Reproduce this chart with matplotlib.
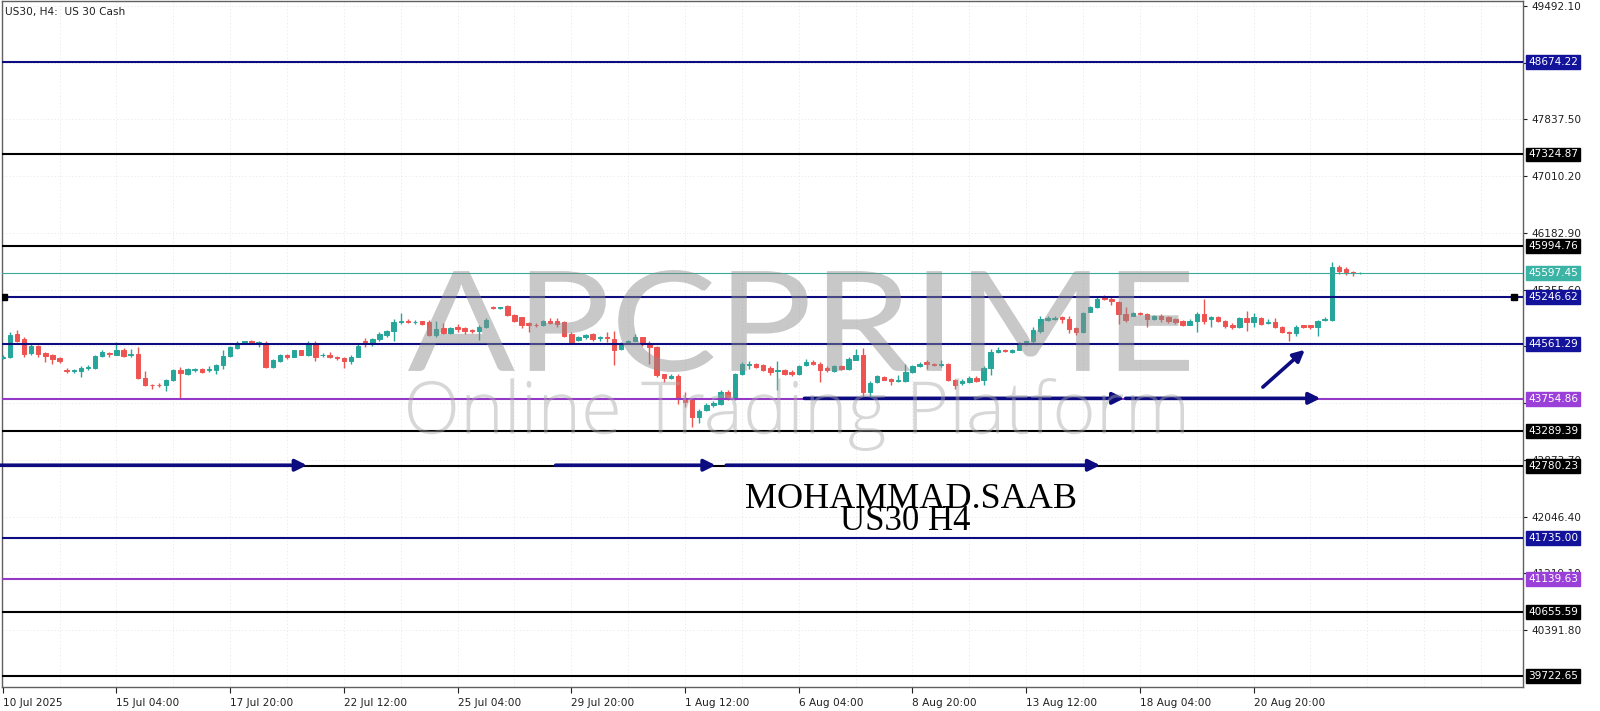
import numpy as np
import matplotlib
matplotlib.use('Agg')
import matplotlib.pyplot as plt
from matplotlib.textpath import TextPath
from matplotlib.patches import PathPatch
from matplotlib.font_manager import FontProperties
from matplotlib.transforms import Affine2D

# US30 H4 candles (open, high, low, close), 10 Jul 2025 onwards
opens = [44356, 44380, 44710, 44628, 44429, 44531, 44429, 44395, 44356, 44186, 44167, 44162, 44206, 44210, 44390, 44429,
         44405, 44468, 44409, 44419, 44070, 43968, 43968, 43958, 44031, 44177, 44118, 44177, 44191, 44177, 44186, 44249,
         44385, 44506, 44574, 44604, 44579, 44574, 44225, 44312, 44395, 44380, 44468, 44405, 44574, 44395, 44405, 44371,
         44365, 44312, 44380, 44613, 44555, 44628, 44700, 44749, 44880, 44904, 44880, 44895, 44890, 44696, 44793, 44725,
         44807, 44793, 44768, 44759, 44807, 45108, 45089, 45123, 44987, 44953, 44866, 44846, 44832, 44904, 44895, 44880,
         44710, 44623, 44662, 44710, 44647, 44662, 44637, 44492, 44589, 44613, 44662, 44579, 44516, 44118, 44070, 44094,
         43770, 43754, 43497, 43604, 43667, 43691, 43861, 43764, 44118, 44249, 44264, 44249, 44215, 44172, 44177, 44152,
         44118, 44249, 44298, 44274, 44215, 44162, 44235, 44201, 44332, 44395, 43861, 44007, 44080, 44055, 44021, 44021,
         44152, 44235, 44298, 44274, 44249, 44264, 44041, 43992, 44007, 44070, 44031, 44215, 44443, 44468, 44443, 44482,
         44565, 44599, 44759, 44919, 44929, 44953, 44929, 44793, 44744, 45035, 45098, 45244, 45220, 45181, 45001, 44977,
         45016, 45001, 44929, 44977, 44953, 44929, 44904, 44841, 44895, 45001, 44929, 44953, 44904, 44832, 44807, 44938,
         44880, 44943, 44866, 44890, 44807, 44744, 44725, 44832, 44832, 44807, 44914, 44914, 45681, 45656, 45618, 45592]
highs = [44395, 44734, 44773, 44662, 44565, 44550, 44443, 44419, 44380, 44215, 44196, 44235, 44254, 44400, 44468, 44443,
         44589, 44506, 44492, 44516, 44167, 43982, 43987, 44055, 44201, 44225, 44215, 44215, 44206, 44235, 44264, 44468,
         44540, 44604, 44613, 44623, 44613, 44613, 44337, 44419, 44419, 44477, 44477, 44613, 44613, 44429, 44443, 44390,
         44380, 44395, 44565, 44647, 44647, 44730, 44768, 44929, 45016, 44929, 44919, 44904, 44914, 44895, 44866, 44807,
         44856, 44807, 44783, 44832, 44938, 45123, 45108, 45137, 45001, 44963, 44880, 44866, 44914, 44938, 44943, 44895,
         44735, 44686, 44710, 44720, 44686, 44735, 44749, 44589, 44623, 44710, 44671, 44613, 44526, 44128, 44128, 44118,
         43860, 43770, 43619, 43701, 43730, 43885, 43885, 44138, 44298, 44312, 44283, 44274, 44235, 44312, 44191, 44177,
         44254, 44346, 44322, 44298, 44235, 44249, 44254, 44371, 44492, 44506, 44016, 44104, 44099, 44070, 44104, 44264,
         44249, 44298, 44322, 44288, 44322, 44283, 44055, 44055, 44089, 44089, 44235, 44492, 44516, 44487, 44492, 44589,
         44613, 44807, 44977, 44967, 44977, 44977, 44967, 44807, 45035, 45123, 45244, 45278, 45244, 45196, 45098, 45035,
         45026, 45016, 44987, 45001, 44977, 44948, 44919, 44929, 45026, 45220, 44967, 44967, 44919, 44865, 44953, 45050,
         45016, 44962, 44929, 44938, 44822, 44759, 44832, 44846, 44846, 44919, 44953, 45763, 45715, 45681, 45632, 45608]
lows = [44346, 44361, 44589, 44380, 44395, 44371, 44298, 44264, 44288, 44138, 44138, 44080, 44186, 44196, 44371, 44380,
        44395, 44371, 44371, 44055, 43944, 43900, 43934, 43876, 44021, 43764, 44104, 44157, 44138, 44157, 44118, 44196,
        44371, 44492, 44565, 44555, 44516, 44215, 44215, 44293, 44346, 44371, 44395, 44390, 44308, 44371, 44356, 44322,
        44215, 44274, 44371, 44516, 44540, 44613, 44662, 44613, 44856, 44875, 44856, 44836, 44676, 44662, 44701, 44710,
        44735, 44710, 44720, 44623, 44798, 45074, 45074, 44977, 44880, 44798, 44735, 44817, 44822, 44856, 44807, 44662,
        44574, 44613, 44637, 44613, 44613, 44589, 44249, 44477, 44565, 44604, 44540, 44274, 44080, 44007, 44055, 43691,
        43640, 43350, 43410, 43585, 43643, 43667, 43740, 43750, 44104, 44201, 44210, 44167, 44104, 43895, 44104, 44094,
        44104, 44235, 44259, 44007, 44152, 44147, 44177, 44186, 44322, 43788, 43779, 43992, 44031, 43968, 44012, 44007,
        44138, 44225, 44201, 44240, 44225, 44021, 43910, 43958, 43992, 44007, 43958, 44104, 44429, 44439, 44429, 44468,
        44550, 44579, 44725, 44904, 44914, 44870, 44725, 44696, 44725, 45026, 45084, 45205, 45132, 44856, 44890, 44967,
        44987, 44807, 44919, 44880, 44870, 44856, 44822, 44832, 44744, 44856, 44817, 44890, 44793, 44783, 44793, 44759,
        44807, 44841, 44851, 44793, 44720, 44599, 44686, 44802, 44783, 44676, 44900, 44900, 45584, 45569, 45559, 45585]
closes = [44380, 44700, 44603, 44419, 44526, 44419, 44385, 44346, 44308, 44167, 44177, 44210, 44225, 44390, 44443, 44414,
          44468, 44390, 44419, 44070, 43958, 43958, 43958, 44041, 44177, 44138, 44196, 44196, 44152, 44201, 44249, 44390,
          44516, 44574, 44599, 44579, 44589, 44225, 44322, 44405, 44371, 44468, 44405, 44565, 44371, 44405, 44371, 44356,
          44315, 44380, 44540, 44589, 44637, 44710, 44749, 44880, 44904, 44890, 44890, 44856, 44696, 44783, 44725, 44798,
          44783, 44759, 44759, 44807, 44914, 45089, 45098, 44987, 44904, 44832, 44832, 44836, 44904, 44870, 44856, 44686,
          44589, 44662, 44696, 44637, 44662, 44647, 44482, 44565, 44613, 44671, 44565, 44516, 44104, 44070, 44089, 43764,
          43720, 43497, 43585, 43677, 43701, 43861, 43764, 44118, 44264, 44274, 44225, 44186, 44152, 44181, 44128, 44118,
          44235, 44298, 44274, 44186, 44177, 44235, 44191, 44337, 44395, 43861, 43997, 44089, 44041, 44021, 44041, 44152,
          44235, 44274, 44264, 44254, 44264, 44031, 43958, 44021, 44070, 44021, 44215, 44443, 44477, 44453, 44477, 44565,
          44599, 44773, 44929, 44938, 44948, 44929, 44783, 44735, 45016, 45098, 45220, 45220, 45196, 45001, 44914, 45016,
          45001, 44929, 44977, 44929, 44904, 44880, 44846, 44904, 45001, 44904, 44953, 44904, 44822, 44807, 44938, 44880,
          44953, 44856, 44890, 44807, 44735, 44725, 44817, 44817, 44807, 44904, 44929, 45681, 45632, 45608, 45598, 45597.45]

tick_labels = ['10 Jul 2025', '15 Jul 04:00', '17 Jul 20:00', '22 Jul 12:00', '25 Jul 04:00', '29 Jul 20:00',
               '1 Aug 12:00', '6 Aug 04:00', '8 Aug 20:00', '13 Aug 12:00', '18 Aug 04:00', '20 Aug 20:00']

# horizontal levels and their colours
levels = [48674.22, 47324.87, 45994.76, 45246.62, 44561.29, 43754.86, 43289.39, 42780.23,
          41735.00, 41139.63, 40655.59, 39722.65]
level_colors = ['#0c0c80', '#000000', '#000000', '#0c0c80', '#0c0c80', '#9438c8', '#000000', '#000000',
                '#0c0c80', '#9438c8', '#000000', '#000000']
label_colors = ['#12129a', '#000000', '#000000', '#12129a', '#12129a', '#9a40d8', '#000000', '#000000',
                '#12129a', '#9a40d8', '#000000', '#000000']
bid = 45597.45

# arrows: bar start, price start, bar end, price end
arrows = [(-1, 42795, 42.8, 42795), (77.8, 42795, 100.3, 42795), (101.8, 42795, 154.4, 42795),
          (112.8, 43770, 157.8, 43770), (158, 43770, 185.4, 43770), (177.3, 43934, 183.2, 44478)]

up_c = '#26a69a'
dn_c = '#ef5350'
navy = '#0c0c80'

W, H = 1600, 711
fig = plt.figure(figsize=(16, 7.11), dpi=100)
ax = fig.add_axes([2 / W, 24 / H, 1521 / W, 686 / H])
ax.set_facecolor('white')

n = len(closes)
x = np.arange(n)
o = np.array(opens, float)
c = np.array(closes, float)
hi = np.array(highs, float)
lo = np.array(lows, float)
col = [up_c if c[i] >= o[i] else dn_c for i in range(n)]
ax.vlines(x, lo, hi, colors=col, lw=1, zorder=3)
ax.bar(x, np.abs(c - o), bottom=np.minimum(o, c), width=0.62, color=col, edgecolor=col, lw=0.7, zorder=3)

ax.set_xlim(-0.1, 213.9)
ax.set_ylim(39562.5, 49562)

# grid
yt = [49492.10 - k * 827.30 for k in range(12)]
for v in yt:
    ax.axhline(v, color='#e6e6e6', lw=0.5, ls=(0, (2, 3)), zorder=0)
for b in range(8, 214, 8):
    ax.axvline(b, color='#e6e6e6', lw=0.5, ls=(0, (2, 3)), zorder=0)

# levels
for lv, lc in zip(levels, level_colors):
    ax.axhline(lv, color=lc, lw=1.5, zorder=4)
ax.axhline(bid, color='#3aa89a', lw=0.8, zorder=4)
ax.plot([0.2, 212.6], [45246.62, 45246.62], ls='none', marker='s', ms=4.5, color='black', zorder=5)

for a in arrows:
    ax.annotate('', xy=(a[2], a[3]), xytext=(a[0], a[1]),
                arrowprops=dict(arrowstyle='-|>', color=navy, lw=2.6, mutation_scale=17, shrinkA=0, shrinkB=0),
                zorder=6)

# axes styling
ax.yaxis.tick_right()
ax.set_yticks(yt)
ax.set_yticklabels(['%.2f' % v for v in yt])
ax.set_xticks(np.arange(0, 177, 16))
ax.set_xticklabels(tick_labels, ha='left')
ax.tick_params(axis='y', length=3, width=0.8, pad=3, labelsize=7.6, colors='#202020')
ax.tick_params(axis='x', length=4, width=0.8, pad=4, labelsize=7.6, colors='#202020')
for s in ax.spines.values():
    s.set_color('#606060')
    s.set_linewidth(1)

# price labels on right scale
ytr = ax.get_yaxis_transform()
for lv, lc in zip(levels, label_colors):
    ax.text(1.0035, lv, '%.2f' % lv, transform=ytr, color='white', fontsize=7.6, va='center', ha='left',
            bbox=dict(boxstyle='square,pad=0.18', fc=lc, ec=lc), clip_on=False, zorder=8)
ax.text(1.0035, bid, '%.2f' % bid, transform=ytr, color='white', fontsize=7.6, va='center', ha='left',
        bbox=dict(boxstyle='square,pad=0.18', fc='#3bb3a5', ec='#3bb3a5'), clip_on=False, zorder=8)

fig.text(5 / W, 1 - 12 / H, 'US30, H4:  US 30 Cash', fontsize=7.6, va='center', ha='left', color='#202020')

# watermark
def stamp(txt, box, prop, color, alpha):
    tp = TextPath((0, 0), txt, size=100, prop=prop)
    e = tp.get_extents()
    x0, y0, x1, y1 = box
    tr = (Affine2D().translate(-e.x0, -e.y0).scale((x1 - x0) / e.width, (y1 - y0) / e.height)
          .translate(x0, H - y1).scale(1 / W, 1 / H) + fig.transFigure)
    fig.add_artist(PathPatch(tp, transform=tr, fc=color, ec='none', alpha=alpha, zorder=7))

stamp('APCPRIME', (408, 270, 1189, 372), FontProperties(family='Lato', weight='normal'), '#8c8c8c', 0.48)
stamp('Online Trading Platform', (408, 378, 1184, 451), FontProperties(family='Open Sans', weight='light'), '#a8a8a8', 0.45)

fig.text(911 / W, 1 - 499 / H, 'MOHAMMAD.SAAB', family='Liberation Serif', fontsize=26, ha='center', va='center', color='black')
fig.text(905 / W, 1 - 522 / H, 'US30 H4', family='Liberation Serif', fontsize=25, ha='center', va='center', color='black')

fig.savefig('out.png', dpi=100)
